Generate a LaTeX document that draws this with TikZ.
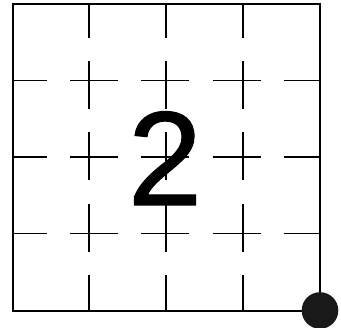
\documentclass[tikz,border=0pt]{standalone}
\usepackage{fontspec}
\setmainfont{Liberation Sans}
\newfontfamily\digitfont[FakeBold=0.8]{Liberation Sans}
\begin{document}
\begin{tikzpicture}[x=1pt,y=1pt,
  gridline/.style={line width=1.1pt,black,
    dash pattern=on 33.7pt off 23.3pt on 48pt off 23.3pt on 48pt off 23.3pt on 48pt off 23.3pt on 40pt off 100pt},
  frame/.style={line width=1.1pt,black}]
\useasboundingbox (0,0) rectangle (341,328);
% digit
\node[anchor=base,inner sep=0pt,font=\digitfont\fontsize{134}{134}\selectfont] (digit) at (165,123) {2};
% frame
\draw[frame] (13,17) rectangle (320,324);
% vertical grid lines (top to bottom)
\foreach \x in {89,166,243}
  \draw[gridline] (\x,324) -- (\x,17);
% horizontal grid lines (left to right)
\foreach \y in {247.3,171,94.3}
  \draw[gridline] (13,\y) -- (320,\y);
% corner dot
\fill[black!90] (320,17.5) circle (18.3);
\end{tikzpicture}
\end{document}
